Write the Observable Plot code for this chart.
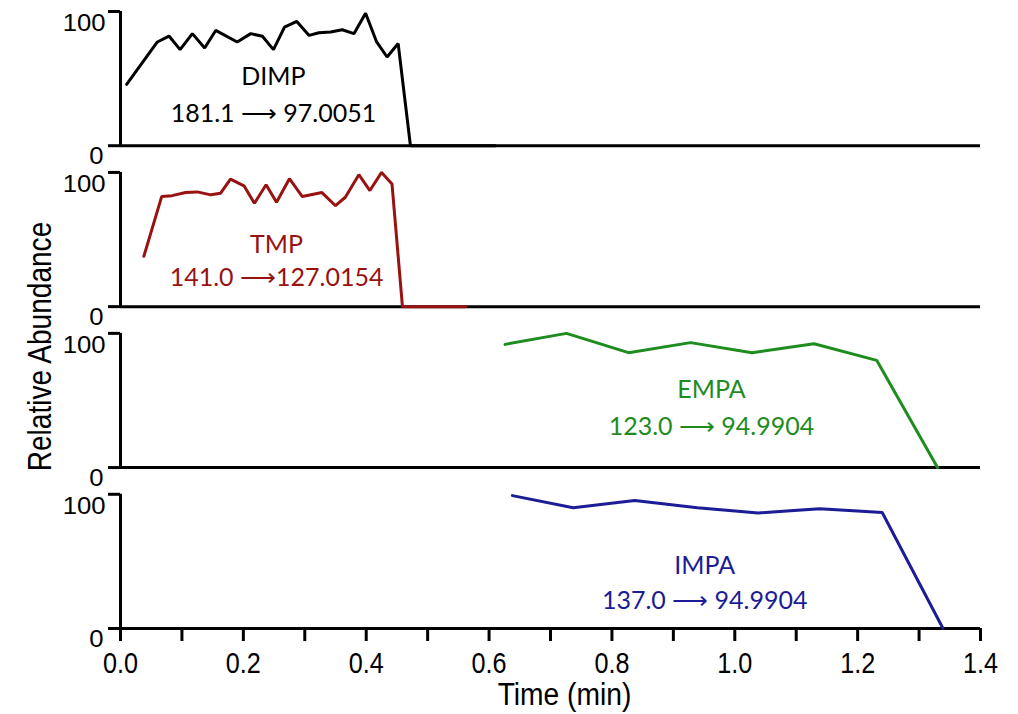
<!DOCTYPE html>
<html>
<head>
<meta charset="utf-8">
<script src="https://cdn.jsdelivr.net/npm/d3@7"></script>
<script src="https://cdn.jsdelivr.net/npm/@observablehq/plot@0.6"></script>
<style>
  html, body { margin: 0; padding: 0; background: #ffffff; }
  #chart svg { display: block; }
</style>
</head>
<body>
<div id="chart"></div>
<script>
// ---- Data ----
const compounds = ["DIMP", "TMP", "EMPA", "IMPA"];
const colors = ["#000000", "#981212", "#1e8c1e", "#1c1c96"];

const dimpTime  = [0.010, 0.060, 0.079, 0.097, 0.117, 0.137, 0.155, 0.190, 0.212, 0.231, 0.249, 0.267, 0.287, 0.307, 0.323, 0.342, 0.361, 0.380, 0.399, 0.417, 0.434, 0.452, 0.472, 0.610];
const dimpAbund = [45.7, 77.3, 81.7, 71.6, 83.5, 72.8, 85.9, 77.3, 83.5, 81.5, 71.6, 88.4, 92.6, 82.2, 84.2, 84.7, 86.4, 83.5, 98.7, 77.3, 66.1, 76.1, 0, 0];

const tmpTime  = [0.038, 0.067, 0.084, 0.106, 0.125, 0.147, 0.163, 0.179, 0.201, 0.218, 0.237, 0.254, 0.275, 0.296, 0.328, 0.350, 0.366, 0.388, 0.406, 0.425, 0.442, 0.459, 0.562];
const tmpAbund = [37.5, 82.0, 82.7, 85.0, 85.5, 83.3, 84.5, 95.0, 90.0, 77.0, 90.8, 77.8, 95.3, 82.0, 85.0, 75.2, 81.5, 98.3, 86.5, 100, 91.3, 0, 0];

const empaTime  = [0.626, 0.726, 0.827, 0.928, 1.028, 1.129, 1.231, 1.330];
const empaAbund = [91.8, 100, 85.6, 93.1, 85.6, 92.3, 79.9, 0];

const impaTime  = [0.638, 0.737, 0.837, 0.939, 1.038, 1.138, 1.240, 1.339];
const impaAbund = [99.0, 90.0, 95.4, 90.0, 86.1, 89.3, 86.4, 0];

// annotation labels (in data coordinates of each panel)
const annotCompound   = ["DIMP", "TMP", "EMPA", "IMPA"];
const annotTransition = ["181.1 \u27F6 97.0051", "141.0 \u27F6127.0154", "123.0 \u27F6 94.9904", "137.0 \u27F6 94.9904"];
const annotTime       = [0.249, 0.254, 0.962, 0.951];
const annotNameLevel  = [51.3, 46.3, 57.5, 46.3];
const annotTransLevel = [23.8, 21.3, 30.6, 20.6];

// axis ticks
const xTicks      = [0, 0.1, 0.2, 0.3, 0.4, 0.5, 0.6, 0.7, 0.8, 0.9, 1.0, 1.1, 1.2, 1.3, 1.4];
const xLabelTicks = [0, 0.2, 0.4, 0.6, 0.8, 1.0, 1.2, 1.4];
const yTicks      = [0, 100];
const yTickLow    = [0];
const yTickHigh   = [100];

// ---- Build tables ----
const seriesTimes  = [dimpTime, tmpTime, empaTime, impaTime];
const seriesAbunds = [dimpAbund, tmpAbund, empaAbund, impaAbund];
const rows = [];
compounds.forEach((c, k) => {
  seriesTimes[k].forEach((t, i) => rows.push({compound: c, time: t, abundance: seriesAbunds[k][i]}));
});
const annots = annotCompound.map((c, i) => ({
  compound: c, time: annotTime[i], name: c, transition: annotTransition[i],
  nameLevel: annotNameLevel[i], transLevel: annotTransLevel[i]
}));

const regular = "'Liberation Sans', Arial, Helvetica, sans-serif";
const annotFont = "Lato, 'Open Sans', sans-serif";

const chart = Plot.plot({
  width: 1018,
  height: 714,
  marginLeft: 120,
  marginRight: 38,
  marginTop: 11,
  marginBottom: 86,
  style: {fontFamily: regular, background: "#ffffff", color: "#000000"},
  x: {domain: [0, 1.4], label: null},
  y: {domain: [0, 100], label: null},
  fy: {domain: compounds, paddingInner: 0.166, paddingOuter: 0, round: false, axis: null, label: null},
  color: {domain: compounds, range: colors},
  marks: [
    // panel frames: baseline and left axis line
    Plot.ruleY([0], {stroke: "#000000", strokeWidth: 3}),
    Plot.ruleX([0], {stroke: "#000000", strokeWidth: 3}),
    // y ticks (lines only)
    Plot.axisY({ticks: yTicks, tickSize: 12, fill: "none", stroke: "#000000", strokeWidth: 3}),
    // y tick labels (widened afterwards)
    Plot.axisY({ticks: yTickLow, tickSize: 12, tickPadding: 5, stroke: "none", dy: 10.5, fontSize: 24,
                fill: "#000000", label: null, className: "wide-ytick"}),
    Plot.axisY({ticks: yTickHigh, tickSize: 12, tickPadding: 3, stroke: "none", dy: 12, fontSize: 24,
                fill: "#000000", label: null, className: "wide-ytick"}),
    // x ticks (lines only)
    Plot.axisX({ticks: xTicks, tickSize: 13, fill: "none", stroke: "#000000", strokeWidth: 3}),
    // x tick labels (condensed afterwards)
    Plot.axisX({ticks: xLabelTicks, tickSize: 13, tickPadding: 10, stroke: "none", fontSize: 30,
                tickFormat: d3.format(".1f"), fill: "#000000", label: null, className: "narrow-tick"}),
    // data lines
    Plot.lineY(rows, {x: "time", y: "abundance", fy: "compound", stroke: "compound", strokeWidth: 3, strokeLinejoin: "miter"}),
    // annotations
    Plot.text(annots, {x: "time", y: "nameLevel", fy: "compound", text: "name", fill: "compound", fontSize: 25, fontFamily: annotFont}),
    Plot.text(annots, {x: "time", y: "transLevel", fy: "compound", text: "transition", fill: "compound", fontSize: 25, fontFamily: annotFont}),
    // axis titles (condensed afterwards)
    Plot.text(["Time (min)"], {text: d => d, fy: () => "IMPA", frameAnchor: "bottom", textAnchor: "middle", lineAnchor: "middle",
                               dy: 67, dx: 14, fontSize: 31, fill: "#000000", className: "narrow-xtitle"}),
    Plot.text(["Relative Abundance"], {text: d => d, fy: () => "TMP", frameAnchor: "left", textAnchor: "middle", lineAnchor: "middle",
                               rotate: -90, dx: -80, dy: 107, fontSize: 33, fill: "#000000", className: "narrow-ytitle"})
  ]
});

document.getElementById("chart").appendChild(chart);

// Emulate the condensed / wide faces of the reference's axis fonts
function fitText(selector, ratio) {
  d3.select(chart).selectAll(selector).each(function () {
    const w = this.getComputedTextLength();
    if (w > 0) {
      this.setAttribute("textLength", (w * ratio).toFixed(2));
      this.setAttribute("lengthAdjust", "spacingAndGlyphs");
    }
  });
}
fitText(".narrow-tick text", 0.84);
fitText(".narrow-xtitle text", 0.91);
fitText(".narrow-ytitle text", 0.85);
fitText(".wide-ytick text", 1.07);
</script>
</body>
</html>
